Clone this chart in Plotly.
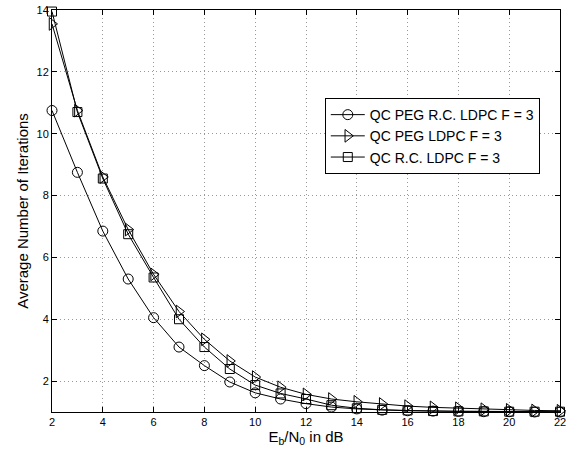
import plotly.graph_objects as go

snr_db = [2, 3, 4, 5, 6, 7, 8, 9, 10, 11, 12, 13, 14, 15, 16, 17, 18, 19, 20, 21, 22]
peg_rc = [10.75, 8.75, 6.85, 5.3, 4.05, 3.1, 2.5, 1.97, 1.62, 1.42, 1.27, 1.16, 1.1, 1.06, 1.04, 1.03, 1.02, 1.01, 1.01, 1.0, 1.0]
peg = [13.55, 10.75, 8.6, 6.9, 5.45, 4.25, 3.35, 2.65, 2.13, 1.8, 1.57, 1.42, 1.33, 1.26, 1.19, 1.15, 1.12, 1.09, 1.07, 1.05, 1.04]
rc = [13.95, 10.7, 8.55, 6.75, 5.35, 4.0, 3.1, 2.39, 1.87, 1.6, 1.42, 1.22, 1.12, 1.07, 1.05, 1.03, 1.02, 1.02, 1.01, 1.01, 1.01]

series = [
    ("QC PEG R.C. LDPC F = 3", peg_rc, "circle-open", 10),
    ("QC PEG LDPC F = 3", peg, "triangle-right-open", 11),
    ("QC R.C. LDPC F = 3", rc, "square-open", 9),
]

fig = go.Figure()
for name, ys, sym, sz in series:
    fig.add_trace(go.Scatter(
        x=snr_db, y=ys, name=name, mode="lines+markers",
        line=dict(color="black", width=1),
        marker=dict(symbol=sym, size=sz, color="black", line=dict(width=1, color="black")),
        cliponaxis=False,
    ))

FONT = "Liberation Sans, Arial, Helvetica"
axis_common = dict(
    showline=True, linecolor="black", linewidth=1, mirror="ticks",
    ticks="inside", ticklen=5, tickcolor="black",
    showgrid=True, gridcolor="#999999", griddash="1px,3px", gridwidth=1,
    zeroline=False, automargin=False,
    tickfont=dict(family=FONT, size=11, color="black"),
)

fig.update_xaxes(range=[2, 22], tickvals=list(range(2, 23, 2)),
                 title=dict(text="E<sub>b</sub>/N<sub>0</sub> in dB",
                            font=dict(family=FONT, size=15, color="black"),
                            standoff=2),
                 **axis_common)
fig.update_yaxes(range=[1, 14], tickvals=list(range(2, 15, 2)),
                 title=dict(text="Average Number of Iterations",
                            font=dict(family=FONT, size=15, color="black"),
                            standoff=4),
                 **axis_common)

fig.update_layout(
    width=570, height=452,
    margin=dict(l=52, r=10, t=10, b=40),
    plot_bgcolor="white", paper_bgcolor="white",
    font=dict(family=FONT, color="black"),
    legend=dict(x=0.537, y=0.781, xanchor="left", yanchor="top",
                bordercolor="black", borderwidth=1, bgcolor="white",
                font=dict(family=FONT, size=14, color="black"), tracegroupgap=0,
                itemwidth=34),
)

fig.write_html("out.html", config={"displayModeBar": False},
               post_script="document.body.style.margin='0';document.body.style.overflow='hidden';")
